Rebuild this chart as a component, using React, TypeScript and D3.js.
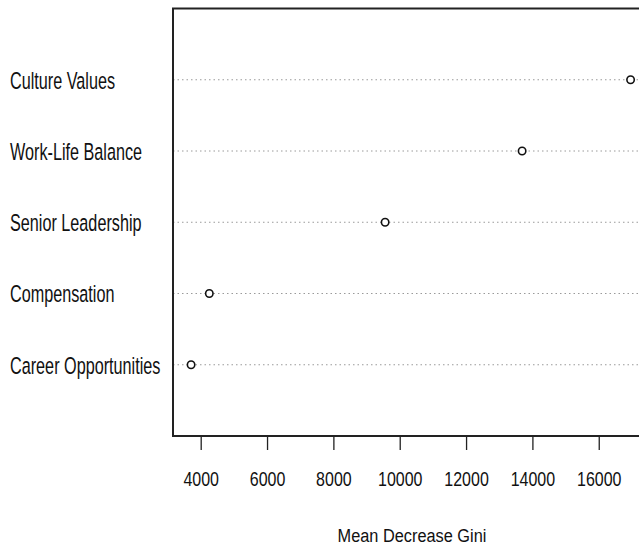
import React, { useRef, useEffect } from 'react';
import { select, scaleLinear, axisBottom, format } from 'd3';

// variables, bottom to top as the dotchart draws them
const variables = [
  'Career Opportunities',
  'Compensation',
  'Senior Leadership',
  'Work-Life Balance',
  'Culture Values',
];
const meanDecreaseGini = [3710, 4260, 9560, 13690, 16960];
const xTicks = [4000, 6000, 8000, 10000, 12000, 14000, 16000];

const W = 639;
const H = 547;
const FONT = '"Liberation Sans", Arial, sans-serif';
const NARROW = 0.82; // the reference uses a condensed face

const plot = { left: 173, right: 648.5, top: 8.5, bottom: 436 };

export default function App() {
  const axisRef = useRef<SVGGElement>(null);

  // scales
  const x = scaleLinear().domain([3165, 17500]).range([plot.left, plot.right]);
  const y = scaleLinear().domain([0, variables.length + 1]).range([plot.bottom, plot.top]);

  // x axis
  useEffect(() => {
    const g = select(axisRef.current);
    g.call(
      axisBottom(x)
        .tickValues(xTicks)
        .tickFormat(format('d'))
        .tickSize(14)
        .tickSizeOuter(0)
        .tickPadding(22)
    );
    g.select('.domain').remove();
    g.selectAll('.tick line').attr('stroke', '#222').attr('stroke-width', 1.3);
    g.selectAll('.tick text')
      .attr('font-family', FONT)
      .attr('font-size', 19.5)
      .attr('fill', '#111')
      .attr('transform', `scale(${NARROW},1)`);
  }, []);

  return (
    <svg
      width={W}
      height={H}
      style={{ position: 'absolute', left: 0, top: 0, background: '#fff' }}
    >
      {/* dotted guide lines */}
      {variables.map((v, i) => (
        <line
          key={'l' + v}
          x1={plot.left}
          x2={W + 20}
          y1={y(i + 1)}
          y2={y(i + 1)}
          stroke="#9a9a9a"
          strokeWidth={1}
          strokeDasharray="1.5,3"
        />
      ))}

      {/* labels */}
      {variables.map((v, i) => (
        <text
          key={'t' + v}
          transform={`translate(10,${y(i + 1)}) scale(0.69,1)`}
          dy="0.38em"
          fontFamily={FONT}
          fontSize={23.5}
          fill="#111"
        >
          {v}
        </text>
      ))}

      {/* points */}
      {meanDecreaseGini.map((d, i) => (
        <circle
          key={'c' + i}
          cx={x(d)}
          cy={y(i + 1)}
          r={3.7}
          fill="#fff"
          stroke="#111"
          strokeWidth={1.6}
        />
      ))}

      {/* box */}
      <rect
        x={plot.left}
        y={plot.top}
        width={plot.right - plot.left}
        height={plot.bottom - plot.top}
        fill="none"
        stroke="#222"
        strokeWidth={2}
      />

      <g ref={axisRef} transform={`translate(0,${plot.bottom})`} />

      <text
        transform={`translate(412,541.5) scale(0.86,1)`}
        textAnchor="middle"
        fontFamily={FONT}
        fontSize={19}
        fill="#111"
      >
        Mean Decrease Gini
      </text>
    </svg>
  );
}
